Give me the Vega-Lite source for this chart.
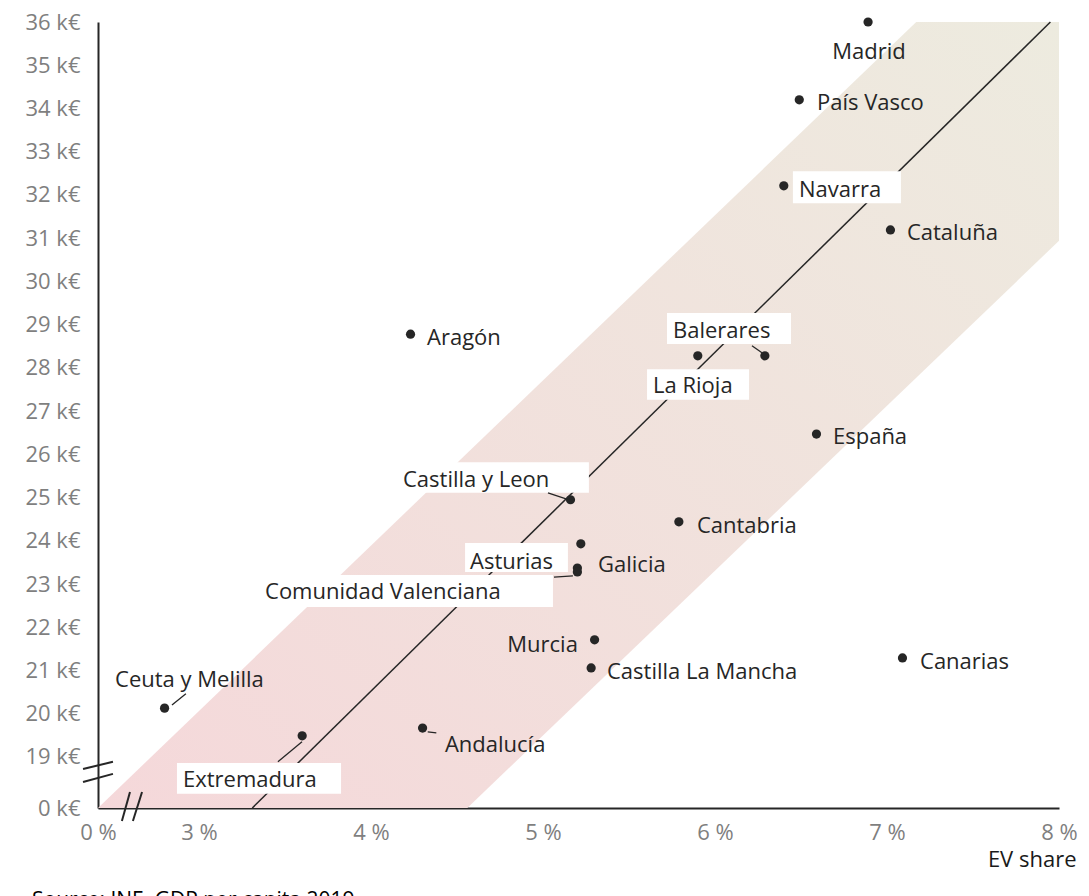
{
  "$schema": "https://vega.github.io/schema/vega-lite/v6.json",
  "width": 961,
  "height": 786,
  "autosize": {"type": "none"},
  "padding": {"left": 98, "top": 22, "right": 30, "bottom": 88},
  "background": "white",
  "config": {"view": {"stroke": null}, "font": "Open Sans"},
  "title": {"text": "Source: INE, GDP per capita 2019", "orient": "bottom", "anchor": "start", "frame": "group", "dx": -66, "offset": 20, "fontSize": 21, "fontWeight": "normal", "color": "#000000", "font": "Open Sans"},
  "datasets": {
    "pts": [
      {"region": "Madrid", "x": 6.89, "y": 36.0},
      {"region": "País Vasco", "x": 6.49, "y": 34.2},
      {"region": "Navarra", "x": 6.40, "y": 32.21},
      {"region": "Cataluña", "x": 7.02, "y": 31.19},
      {"region": "Aragón", "x": 4.23, "y": 28.78},
      {"region": "La Rioja", "x": 5.90, "y": 28.28},
      {"region": "Balerares", "x": 6.29, "y": 28.28},
      {"region": "España", "x": 6.59, "y": 26.47},
      {"region": "Castilla y Leon", "x": 5.16, "y": 24.95},
      {"region": "Cantabria", "x": 5.79, "y": 24.44},
      {"region": "Galicia", "x": 5.22, "y": 23.93},
      {"region": "Asturias", "x": 5.20, "y": 23.37},
      {"region": "Comunidad Valenciana", "x": 5.20, "y": 23.28},
      {"region": "Murcia", "x": 5.30, "y": 21.71},
      {"region": "Castilla La Mancha", "x": 5.28, "y": 21.06},
      {"region": "Canarias", "x": 7.09, "y": 21.29},
      {"region": "Ceuta y Melilla", "x": 2.80, "y": 20.13},
      {"region": "Extremadura", "x": 3.60, "y": 19.49},
      {"region": "Andalucía", "x": 4.30, "y": 19.67}
    ],
    "band": [
      {"x": 2.413, "y": 17.82, "y2": 17.82},
      {"x": 4.56, "y": 17.82, "y2": 26.03},
      {"x": 7.17, "y": 27.77, "y2": 36},
      {"x": 8.0, "y": 30.94, "y2": 36}
    ],
    "trend": [
      {"x": 3.31, "y": 17.82},
      {"x": 7.95, "y": 36}
    ],
    "boxes": [
      {"label": "Navarra", "x": 6.453, "x2": 7.081, "y": 32.55, "y2": 31.81},
      {"label": "Balerares", "x": 5.721, "x2": 6.442, "y": 29.27, "y2": 28.55},
      {"label": "La Rioja", "x": 5.605, "x2": 6.198, "y": 27.97, "y2": 27.26},
      {"label": "Castilla y Leon", "x": 4.14, "x2": 5.267, "y": 25.82, "y2": 25.11},
      {"label": "Asturias", "x": 4.547, "x2": 5.145, "y": 23.95, "y2": 23.28},
      {"label": "Comunidad Valenciana", "x": 3.343, "x2": 5.058, "y": 23.21, "y2": 22.47},
      {"label": "Extremadura", "x": 2.872, "x2": 3.826, "y": 18.86, "y2": 18.15}
    ],
    "leaders": [
      {"label": "Ceuta y Melilla", "x": 2.843, "y": 20.2, "x2": 2.924, "y2": 20.46},
      {"label": "Extremadura", "x": 3.599, "y": 19.35, "x2": 3.459, "y2": 18.89},
      {"label": "Andalucía", "x": 4.33, "y": 19.58, "x2": 4.38, "y2": 19.56},
      {"label": "Castilla y Leon", "x": 5.029, "y": 25.11, "x2": 5.134, "y2": 24.97},
      {"label": "Balerares", "x": 6.215, "y": 28.51, "x2": 6.273, "y2": 28.35},
      {"label": "Comunidad Valenciana", "x": 5.064, "y": 23.16, "x2": 5.174, "y2": 23.19}
    ],
    "breaks": [
      {"x": 2.326, "y": 18.72, "x2": 2.5, "y2": 18.89},
      {"x": 2.326, "y": 18.42, "x2": 2.5, "y2": 18.61},
      {"x": 2.552, "y": 17.52, "x2": 2.599, "y2": 18.19},
      {"x": 2.616, "y": 17.52, "x2": 2.669, "y2": 18.19}
    ],
    "labels_left": [
      {"t": "País Vasco", "x": 6.593, "y": 34.13},
      {"t": "Navarra", "x": 6.488, "y": 32.11},
      {"t": "Cataluña", "x": 7.116, "y": 31.11},
      {"t": "Aragón", "x": 4.326, "y": 28.7},
      {"t": "Balerares", "x": 5.756, "y": 28.85},
      {"t": "La Rioja", "x": 5.64, "y": 27.58},
      {"t": "España", "x": 6.686, "y": 26.4},
      {"t": "Castilla y Leon", "x": 4.186, "y": 25.4},
      {"t": "Cantabria", "x": 5.895, "y": 24.34},
      {"t": "Galicia", "x": 5.32, "y": 23.44},
      {"t": "Asturias", "x": 4.576, "y": 23.52},
      {"t": "Comunidad Valenciana", "x": 3.384, "y": 22.82},
      {"t": "Castilla La Mancha", "x": 5.372, "y": 20.97},
      {"t": "Canarias", "x": 7.192, "y": 21.2},
      {"t": "Ceuta y Melilla", "x": 2.512, "y": 20.78},
      {"t": "Andalucía", "x": 4.43, "y": 19.28},
      {"t": "Extremadura", "x": 2.907, "y": 18.46}
    ],
    "labels_right": [
      {"t": "Murcia", "x": 5.203, "y": 21.59}
    ],
    "labels_center": [
      {"t": "Madrid", "x": 6.895, "y": 35.31}
    ]
  },
  "encoding": {
    "x": {
      "field": "x",
      "type": "quantitative",
      "scale": {"domain": [2.413, 8], "nice": false, "zero": false},
      "axis": {
        "values": [2.413, 3, 4, 5, 6, 7, 8],
        "labelExpr": "datum.value < 2.9 ? '0 %' : datum.value + ' %'",
        "grid": false,
        "ticks": false,
        "domainColor": "#262626",
        "domainWidth": 2,
        "labelColor": "#7f7f7f",
        "labelFontSize": 22,
        "labelFont": "Open Sans",
        "labelPadding": 14,
        "labelOverlap": false,
        "labelFlush": false,
        "title": "EV share",
        "titleFont": "Open Sans",
        "titleFontSize": 22,
        "titleFontWeight": "normal",
        "titleColor": "#1a1a1a",
        "titleX": 978,
        "titleY": 58,
        "titleAlign": "right",
        "titleBaseline": "alphabetic"
      }
    },
    "y": {
      "field": "y",
      "type": "quantitative",
      "scale": {"domain": [17.82, 36], "nice": false, "zero": false},
      "axis": {
        "values": [17.82, 19, 20, 21, 22, 23, 24, 25, 26, 27, 28, 29, 30, 31, 32, 33, 34, 35, 36],
        "labelExpr": "datum.value < 18.5 ? '0 k€' : datum.value + ' k€'",
        "grid": false,
        "ticks": false,
        "domainColor": "#262626",
        "domainWidth": 2,
        "labelColor": "#7f7f7f",
        "labelFontSize": 22,
        "labelFont": "Open Sans",
        "labelPadding": 18,
        "labelOverlap": false,
        "labelFlush": false,
        "title": null
      }
    }
  },
  "layer": [
    {
      "data": {"name": "band"},
      "mark": {
        "type": "area",
        "fill": {
          "gradient": "linear",
          "x1": 0, "y1": 1, "x2": 1, "y2": 0,
          "stops": [
            {"offset": 0, "color": "#f5d8da"},
            {"offset": 1, "color": "#edebdf"}
          ]
        },
        "opacity": 1
      },
      "encoding": {"y2": {"field": "y2"}}
    },
    {
      "data": {"name": "trend"},
      "mark": {"type": "line", "color": "#262626", "strokeWidth": 1.5},
      "encoding": {}
    },
    {
      "data": {"name": "boxes"},
      "mark": {"type": "rect", "fill": "white"},
      "encoding": {"x2": {"field": "x2"}, "y2": {"field": "y2"}}
    },
    {
      "data": {"name": "leaders"},
      "mark": {"type": "rule", "color": "#262626", "strokeWidth": 1.3},
      "encoding": {"x2": {"field": "x2"}, "y2": {"field": "y2"}}
    },
    {
      "data": {"name": "breaks"},
      "mark": {"type": "rule", "color": "#262626", "strokeWidth": 2},
      "encoding": {"x2": {"field": "x2"}, "y2": {"field": "y2"}}
    },
    {
      "data": {"name": "pts"},
      "mark": {"type": "circle", "size": 85, "color": "#262626", "opacity": 1},
      "encoding": {"tooltip": {"field": "region"}}
    },
    {
      "data": {"name": "labels_left"},
      "mark": {"type": "text", "align": "left", "baseline": "middle", "fontSize": 22, "font": "Open Sans", "color": "#262626"},
      "encoding": {"text": {"field": "t"}}
    },
    {
      "data": {"name": "labels_right"},
      "mark": {"type": "text", "align": "right", "baseline": "middle", "fontSize": 22, "font": "Open Sans", "color": "#262626"},
      "encoding": {"text": {"field": "t"}}
    },
    {
      "data": {"name": "labels_center"},
      "mark": {"type": "text", "align": "center", "baseline": "middle", "fontSize": 22, "font": "Open Sans", "color": "#262626"},
      "encoding": {"text": {"field": "t"}}
    }
  ]
}
